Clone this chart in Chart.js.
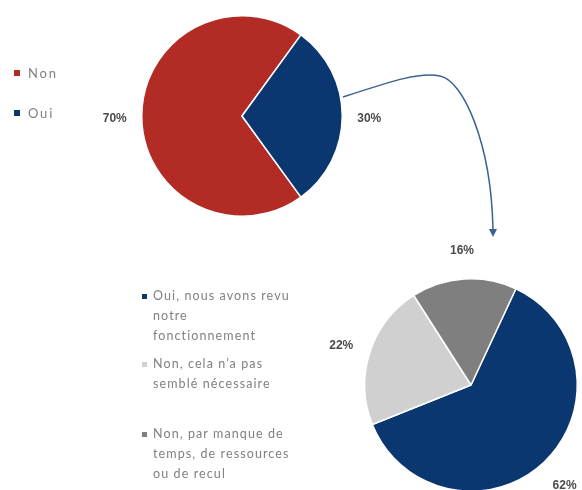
<!DOCTYPE html>
<html>
<head>
<meta charset="utf-8">
<script src="https://cdn.jsdelivr.net/npm/chart.js@4"></script>
<style>
  body { margin: 0; width: 582px; height: 490px; overflow: hidden; background: #fff; position: relative; font-family: Lato, 'Liberation Sans', sans-serif; }
  canvas { position: absolute; left: 0; }
  #pieTop { top: 0; }
  #pieBottom { top: 240px; }
  .legend { position: absolute; color: #808080; }
  .legend .item { position: relative; padding-left: 11px; }
  .legend .mark { position: absolute; left: 0; width: 5px; height: 5px; }
  #legendTop { left: 14px; top: 64px; font-size: 13px; letter-spacing: 1.8px; }
  #legendTop .item { height: 40px; line-height: 18px; padding-left: 14px; }
  #legendTop .mark { width: 6px; height: 6px; top: 6px; }
  #legendBottom { left: 142px; top: 286px; font-size: 12.5px; line-height: 20px; letter-spacing: 1.1px; }
  #legendBottom .mark { top: 8px; }
  #arrow { position: absolute; left: 0; top: 0; }
</style>
</head>
<body>
<canvas id="pieTop" width="582" height="240"></canvas>
<canvas id="pieBottom" width="582" height="260"></canvas>
<div id="legendTop" class="legend"></div>
<div id="legendBottom" class="legend"></div>
<svg id="arrow" width="582" height="490">
  <path d="M343,97 C395,80 420,72 440,76 C462,80 491,140 493,229" fill="none" stroke="#3b6194" stroke-width="1.5"/>
  <polygon points="489,229 497,229 493,237" fill="#3b6194"/>
</svg>
<script>
// top pie: did you change anything?
const topLabels = ['Non', 'Oui'];
const topValues = [70, 30];
const topColors = ['#b22c25', '#0a3770'];

// bottom pie: detail of the "Oui"
const bottomLabels = [
  ['Oui, nous avons revu', 'notre', 'fonctionnement'],
  ['Non, cela n\u2019a pas', 'sembl\u00e9 n\u00e9cessaire'],
  ['Non, par manque de', 'temps, de ressources', 'ou de recul']
];
const bottomValues = [62, 22, 16];
const bottomColors = ['#0a3770', '#d0d0d0', '#7f7f7f'];

// percentage labels outside each slice
const outsideLabels = {
  id: 'outsideLabels',
  afterDatasetsDraw(chart, args, opts) {
    let ctx = chart.ctx;
    let meta = chart.getDatasetMeta(0);
    let values = chart.data.datasets[0].data;
    ctx.save();
    ctx.font = 'bold 12px "Liberation Sans", sans-serif';
    ctx.fillStyle = '#4a4a4a';
    ctx.textAlign = 'center';
    ctx.textBaseline = 'middle';
    meta.data.forEach((arc, i) => {
      let mid = (arc.startAngle + arc.endAngle) / 2;
      let r = arc.outerRadius + opts.offset;
      ctx.fillText(values[i] + '%', arc.x + Math.cos(mid) * r, arc.y + Math.sin(mid) * r + opts.dy);
    });
    ctx.restore();
  }
};

function pieConfig(labels, values, colors, rotation, padding, offset, dy) {
  return {
    type: 'pie',
    data: {
      labels: labels,
      datasets: [{
        data: values,
        backgroundColor: colors,
        borderColor: '#ffffff',
        borderWidth: 1.5
      }]
    },
    options: {
      responsive: false,
      animation: false,
      rotation: rotation,
      layout: { padding: padding },
      plugins: {
        legend: { display: false },
        tooltip: { enabled: false },
        outsideLabels: { offset: offset, dy: dy }
      }
    },
    plugins: [outsideLabels]
  };
}

function buildLegend(el, labels, colors) {
  labels.forEach((label, i) => {
    let lines = Array.isArray(label) ? label : [label];
    let item = document.createElement('div');
    item.className = 'item';
    item.innerHTML = '<span class="mark" style="background:' + colors[i] + '"></span>' + lines.join('<br>');
    el.appendChild(item);
  });
}

new Chart(document.getElementById('pieTop'),
  pieConfig(topLabels, topValues, topColors, 144, {left: 141, right: 239, top: 15, bottom: 23}, 27, 3));
new Chart(document.getElementById('pieBottom'),
  pieConfig(bottomLabels, bottomValues, bottomColors, 25, {left: 364, right: 4, top: 38, bottom: 8}, 30, 2));

buildLegend(document.getElementById('legendTop'), topLabels, topColors);
buildLegend(document.getElementById('legendBottom'), bottomLabels, bottomColors);
// gap between legend entries like the reference
let items = document.querySelectorAll('#legendBottom .item');
items[0].style.marginBottom = '8px';
items[1].style.marginBottom = '30px';
</script>
</body>
</html>
